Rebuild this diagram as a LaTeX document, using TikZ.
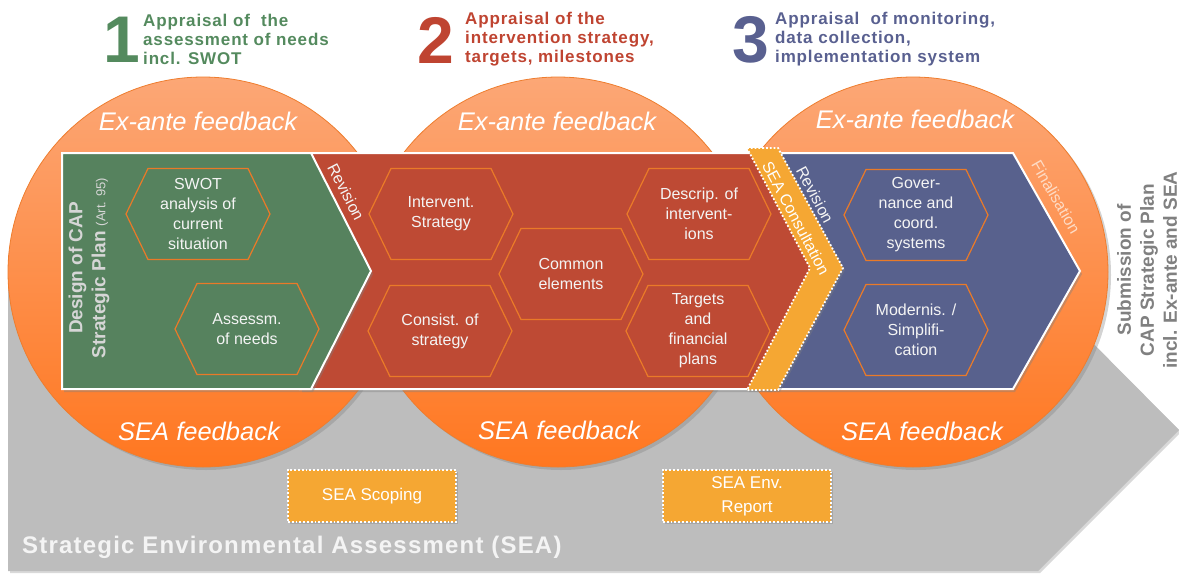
\documentclass[tikz,border=0pt]{standalone}
\usepackage{fontspec}
\setmainfont{Liberation Sans}
\usetikzlibrary{shadows,calc}
\definecolor{cgreen}{HTML}{56825E}
\definecolor{cred}{HTML}{BE4A34}
\definecolor{cblue}{HTML}{58618D}
\definecolor{tgreen}{HTML}{548A5E}
\definecolor{tred}{HTML}{BF4431}
\definecolor{tblue}{HTML}{596090}
\definecolor{cgray}{HTML}{BDBDBD}
\definecolor{ctop}{HTML}{FCA776}
\definecolor{cbot}{HTML}{FF7720}
\definecolor{cedge}{HTML}{EE7D2E}
\definecolor{hexedge}{HTML}{EA7A28}
\definecolor{cband}{HTML}{F5A733}
\definecolor{txtw}{HTML}{F4F4F4}
\definecolor{dgray}{HTML}{D6D6D6}
\definecolor{subgray}{HTML}{808080}
\definecolor{finc}{HTML}{FDDCC6}
\newcommand{\hexa}[4]{%
  \node[hextext] (#1) at (#2,#3) {#4};
  \draw[hexline] ($(#1.center)+(-72,0)$) -- ++(22,45.5) -- ++(100,0) -- ++(22,-45.5) -- ++(-22,-45.5) -- ++(-100,0) -- cycle;}
\begin{document}
\begin{tikzpicture}[x=1pt,y=-1pt,
  bigcirc/.style={circle, minimum size=390pt, inner sep=0pt, top color=ctop, bottom color=cbot, draw=cedge, line width=0.8pt,
    drop shadow={opacity=0.35, shadow xshift=3pt, shadow yshift=-3pt}},
  feed/.style={text=white, font=\fontsize{25.5}{28}\selectfont\itshape, inner sep=0pt},
  hextext/.style={text=txtw, align=center, font=\fontsize{16}{20}\selectfont, inner sep=0pt},
  hexline/.style={draw=hexedge, line width=1.2pt},
  digit/.style={font=\fontsize{66}{66}\selectfont\bfseries, inner sep=0pt},
  ttl/.style={font=\fontsize{17}{19}\selectfont\bfseries\addfontfeature{LetterSpace=5}, align=left, inner sep=0pt, anchor=west},
  rotlab/.style={font=\fontsize{16}{18}\selectfont, inner sep=0pt},
  bandshadow/.style={drop shadow={opacity=0.4, shadow xshift=2pt, shadow yshift=-3pt}},
  seabox/.style={fill=cband, draw=white, dotted, line width=1.8pt, minimum width=168pt, minimum height=52pt, inner sep=0pt,
    text=white, align=center, font=\fontsize{17}{24}\selectfont,
    drop shadow={opacity=0.35, shadow xshift=2pt, shadow yshift=-2pt}}
]
\useasboundingbox (0,0) rectangle (1179,574);
% grey SEA arrow
\fill[cgray, drop shadow={opacity=0.3, shadow xshift=2pt, shadow yshift=-2pt}]
  (8,288) -- (1038,288) -- (1179,430) -- (1038,571) -- (8,571) -- cycle;
% circles
\node[bigcirc] (c1) at (203,272) {};
\node[bigcirc] (c2) at (558,272) {};
\node[bigcirc] (c3) at (913,272) {};
% band
\filldraw[fill=cblue, draw=white, line width=2pt, bandshadow]
  (765,153) -- (1013,153) -- (1080,271) -- (1013,389) -- (765,389) -- (828,271) -- cycle;
\filldraw[fill=cred, draw=white, line width=2pt, bandshadow]
  (300,153) -- (770,153) -- (830,271) -- (770,389) -- (300,389) -- cycle;
\filldraw[fill=cgreen, draw=white, line width=2pt, bandshadow]
  (62,153) -- (311,153) -- (371,271) -- (311,389) -- (62,389) -- cycle;
\filldraw[fill=cband, draw=white, dotted, line width=1.8pt, drop shadow={opacity=0.35, shadow xshift=2pt, shadow yshift=-2pt}]
  (747,148) -- (778,148) -- (843,268) -- (778,390) -- (747,390) -- (810,268) -- cycle;
% feedback labels
\node[feed] (ea1) at (198,121) {Ex-ante feedback};
\node[feed] (ea2) at (557,121) {Ex-ante feedback};
\node[feed] (ea3) at (915,119) {Ex-ante feedback};
\node[feed] (sf1) at (199,431) {SEA feedback};
\node[feed] (sf2) at (559,430) {SEA feedback};
\node[feed] (sf3) at (922,431) {SEA feedback};
% hexagons
\hexa{swot}{198}{214}{SWOT\\analysis of\\current\\situation}
\hexa{needs}{247}{329}{Assessm.\\of needs}
\hexa{strat}{441}{214}{Intervent.\\Strategy}
\hexa{consist}{440}{331}{Consist. of\\strategy}
\hexa{common}{571}{274}{Common\\elements}
\hexa{descrip}{699}{214}{Descrip. of\\intervent-\\ions}
\hexa{targets}{698}{331}{Targets\\and\\financial\\plans}
\hexa{gov}{916}{215}{Gover-\\nance and\\coord.\\systems}
\hexa{modern}{916}{330}{Modernis. /\\Simplifi-\\cation}
% rotated labels
\node[rotlab, text=txtw, rotate=-63] (rev1) at (346,192) {Revision};
\node[rotlab, text=txtw, rotate=-62] (rev2) at (815,195) {Revision};
\node[rotlab, text=white, rotate=-62] (cons) at (796,218) {SEA Consultation};
\node[rotlab, text=finc, rotate=-60] (fin) at (1056,197) {Finalisation};
\node[text=dgray, rotate=90, align=center, inner sep=0pt, font=\fontsize{19}{23}\selectfont\bfseries] (design) at (89,268)
  {Design of CAP\\Strategic Plan {\mdseries\fontsize{13}{23}\selectfont (Art. 95)}};
\node[text=subgray, rotate=90, align=center, inner sep=0pt, font=\fontsize{19}{23}\selectfont\bfseries] (subm) at (1147,270)
  {Submission of\\CAP Strategic Plan\\incl. Ex-ante and SEA};
% titles
\node[digit, text=tgreen] (n1) at (122,40) {1};
\node[ttl, text=tgreen] (t1) at (143,39) {Appraisal of\ \ the\\assessment of needs\\incl. SWOT};
\node[digit, text=tred] (n2) at (436,40) {2};
\node[ttl, text=tred] (t2) at (465,39) {Appraisal of the\\intervention strategy,\\targets, milestones};
\node[digit, text=tblue] (n3) at (751,40) {3};
\node[ttl, text=tblue] (t3) at (775,39) {Appraisal\ \ of monitoring,\\data collection,\\implementation system};
% SEA boxes
\node[seabox] (scope) at (372,496) {SEA Scoping};
\node[seabox] (report) at (747,496) {SEA Env.\\Report};
\node[text=txtw, anchor=west, inner sep=0pt, font=\fontsize{24}{26}\selectfont\bfseries\addfontfeature{LetterSpace=5}] (seaname) at (22,547)
  {Strategic Environmental Assessment (SEA)};
\end{tikzpicture}
\end{document}
